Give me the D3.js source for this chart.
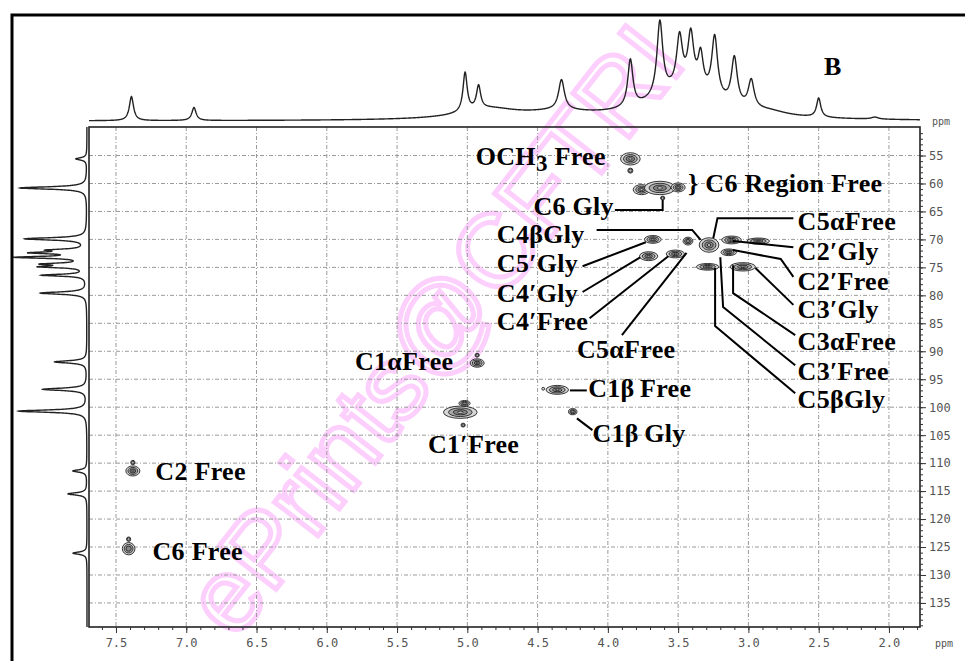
<!DOCTYPE html>
<html>
<head>
<meta charset="utf-8">
<script src="https://cdn.jsdelivr.net/npm/d3@7"></script>
<style>
body{margin:0;background:#fff}
.lbl{font-family:"Liberation Serif","Times New Roman",serif;font-weight:bold;font-size:26px;letter-spacing:0.3px;fill:#000}
.tk text{font-family:"DejaVu Sans Mono",monospace;font-size:12px;fill:#555}
.tk path{display:none}
.tk line{stroke:#333}
</style>
</head>
<body>
<div id="chart"></div>
<script>
// 1H projection (top): [ppm, height, half width]
var protonPeaks = [
  [7.39, 24, 0.018], [6.945, 13, 0.018],
  [4.85, 10, 0.25], [4.35, 6, 0.3],
  [5.016, 39, 0.018], [4.92, 23, 0.018], [4.33, 30, 0.025],
  [3.45, 30, 0.3], [2.85, 4, 0.15],
  [3.84, 47, 0.022], [3.63, 74, 0.025], [3.49, 50, 0.025], [3.41, 52, 0.025],
  [3.34, 34, 0.022], [3.24, 60, 0.025], [3.10, 47, 0.025], [2.98, 28, 0.025],
  [2.50, 19, 0.018], [2.10, 2, 0.03]
];
// 13C projection (left): [ppm, height, half width]
var carbonPeaks = [
  [55.6, 11, 0.25], [60.8, 67, 0.25], [69.9, 61, 0.25], [71.9, 32, 0.2],
  [72.4, 50, 0.2], [73.2, 68, 0.2], [74.4, 39, 0.2], [74.9, 42, 0.2],
  [76.4, 44, 0.2], [79.6, 46, 0.25], [91.9, 32, 0.25], [96.8, 44, 0.25],
  [100.7, 68, 0.25], [111.4, 14, 0.25], [115.5, 19, 0.25], [126.1, 14, 0.25]
];
// HSQC cross peaks: [1H ppm, 13C ppm, 1H half width, 13C half width]
var crossPeaks = [
  [7.38, 111.4, 0.05, 0.9], [7.38, 109.9, 0.015, 0.4],
  [7.41, 125.3, 0.045, 1.1], [7.41, 123.6, 0.015, 0.4],
  [3.84, 55.6, 0.07, 1.1], [3.84, 57.7, 0.018, 0.45],
  [3.76, 61.1, 0.06, 0.9], [3.63, 60.8, 0.11, 1.2], [3.50, 60.7, 0.05, 0.8],
  [3.61, 62.6, 0.015, 0.35],
  [3.68, 70.0, 0.06, 0.7], [3.71, 73.0, 0.065, 0.8], [3.52, 72.6, 0.065, 0.7],
  [3.43, 70.3, 0.035, 0.7], [3.28, 71.0, 0.07, 1.3],
  [3.12, 70.1, 0.07, 0.7], [2.93, 70.3, 0.08, 0.55],
  [3.14, 72.3, 0.055, 0.6], [3.04, 74.9, 0.09, 0.75], [3.29, 74.9, 0.08, 0.6],
  [4.93, 92.1, 0.05, 0.75], [4.93, 90.7, 0.015, 0.35],
  [5.05, 100.9, 0.12, 1.1], [5.02, 99.3, 0.04, 0.5], [5.03, 103.2, 0.015, 0.35],
  [4.36, 96.9, 0.08, 0.8], [4.46, 96.7, 0.01, 0.25],
  [4.25, 100.8, 0.03, 0.55]
];
var xTicks = [7.5, 7.0, 6.5, 6.0, 5.5, 5.0, 4.5, 4.0, 3.5, 3.0, 2.5, 2.0];
var yTicks = [55, 60, 65, 70, 75, 80, 85, 90, 95, 100, 105, 110, 115, 120, 125, 130, 135];
// assignments: text, [1H, 13C] of text start, leader line points in ppm
var labels = [
  {t: "C6 Gly", at: [4.53, 65.6], line: [[3.95, 64.75], [3.61, 64.75], [3.61, 62.96]]},
  {t: "C4\u03b2Gly", at: [4.79, 70.65], line: [[4.08, 68.3], [3.40, 68.3], [3.34, 70.1]]},
  {t: "C5\u2032Gly", at: [4.79, 75.8], line: [[4.18, 74.8], [3.73, 70.5]]},
  {t: "C4\u2032Gly", at: [4.79, 81.2], line: [[4.18, 79.4], [3.77, 73.2]]},
  {t: "C4\u2032Free", at: [4.79, 86.2], line: [[4.13, 84.1], [3.57, 73.0]]},
  {t: "C5\u03b1Free", at: [4.22, 91.2], line: [[3.90, 87.1], [3.44, 72.4]]},
  {t: "C1\u03b1Free", at: [5.80, 93.4], line: []},
  {t: "C1\u03b2\u2009Free", at: [4.14, 98.2], line: [[4.27, 97.0], [4.15, 97.0]]},
  {t: "C1\u2032Free", at: [5.28, 108.2], line: []},
  {t: "C1\u03b2\u2009Gly", at: [4.11, 106.25], line: [[4.22, 102.0], [4.11, 104.1]]},
  {t: "C2 Free", at: [7.22, 113.05], line: []},
  {t: "C6 Free", at: [7.24, 127.4], line: []},
  {t: "} C6 Region Free", at: [3.43, 61.6], line: []},
  {t: "C5\u03b1Free", at: [2.65, 68.3], line: [[2.68, 66.2], [3.22, 66.2], [3.25, 69.8]]},
  {t: "C2\u2032Gly", at: [2.65, 73.7], line: [[2.68, 71.4], [3.11, 70.3]]},
  {t: "C2\u2032Free", at: [2.65, 79.1], line: [[2.68, 76.7], [2.77, 73.5], [3.11, 71.9]]},
  {t: "C3\u2032Gly", at: [2.65, 84.1], line: [[2.68, 81.7], [2.95, 75.1]]},
  {t: "C3\u03b1Free", at: [2.65, 89.8], line: [[2.667, 87.1], [3.109, 79.6], [3.109, 74.6]]},
  {t: "C3\u2032Free", at: [2.65, 95.2], line: [[2.667, 92.5], [3.18, 82.1], [3.20, 73.2]]},
  {t: "C5\u03b2Gly", at: [2.65, 100.2], line: [[2.667, 97.5], [3.237, 85.5], [3.237, 75.1]]}
];

var W = 965, H = 661;
var svg = d3.select("#chart").append("svg").attr("width", W).attr("height", H);

var x = d3.scaleLinear().domain([7.692, 1.779]).range([89, 920]);
var y = d3.scaleLinear().domain([49.9, 139.3]).range([127, 627]);
var topY = d3.scaleLinear().domain([0, 100]).range([121, 21]);
var leftX = d3.scaleLinear().domain([0, 100]).range([87, -13]);

function lorentz(list, p) {
  var s = 0;
  for (var i = 0; i < list.length; i++) {
    var d = p - list[i][0], w = list[i][2];
    s += list[i][1] * w * w / (d * d + w * w);
  }
  return s;
}

// watermark
svg.append("text")
  .attr("transform", "translate(440,335) rotate(-52)")
  .attr("text-anchor", "middle")
  .attr("dominant-baseline", "middle")
  .style("font-family", "Liberation Sans, sans-serif")
  .style("font-size", "104px")
  .style("fill", "none")
  .style("stroke", "#fccffc")
  .style("stroke-width", 5)
  .text("ePrints@CFTRI");

// outer frame
svg.append("rect").attr("x", 12).attr("y", 15).attr("width", W).attr("height", H)
  .attr("fill", "none").attr("stroke", "#000").attr("stroke-width", 3);

// grid
var grid = svg.append("g").attr("stroke", "#9a9a9a").attr("stroke-width", 1)
  .attr("stroke-dasharray", "4,2,1,2");
grid.selectAll(".v").data(xTicks).enter().append("line")
  .attr("x1", function(d) { return x(d); }).attr("x2", function(d) { return x(d); })
  .attr("y1", y.range()[0]).attr("y2", y.range()[1]);
grid.selectAll(".h").data(yTicks).enter().append("line")
  .attr("y1", function(d) { return y(d); }).attr("y2", function(d) { return y(d); })
  .attr("x1", x.range()[0]).attr("x2", x.range()[1]);

// plot box
svg.append("rect").attr("x", x.range()[0]).attr("y", y.range()[0])
  .attr("width", x.range()[1] - x.range()[0]).attr("height", y.range()[1] - y.range()[0])
  .attr("fill", "none").attr("stroke", "#222").attr("stroke-width", 1.6);

// axes
svg.append("g").attr("class", "tk").attr("transform", "translate(0," + y.range()[1] + ")")
  .call(d3.axisBottom(x).tickValues(d3.range(7.6, 1.75, -0.1)).tickSize(3).tickFormat(""));
svg.append("g").attr("class", "tk").attr("transform", "translate(0," + y.range()[1] + ")")
  .call(d3.axisBottom(x).tickValues(xTicks).tickSize(6).tickPadding(5).tickFormat(d3.format(".1f")));
svg.append("g").attr("class", "tk").attr("transform", "translate(" + x.range()[1] + ",0)")
  .call(d3.axisRight(y).tickValues(d3.range(51, 140, 1)).tickSize(3).tickFormat(""));
svg.append("g").attr("class", "tk").attr("transform", "translate(" + x.range()[1] + ",0)")
  .call(d3.axisRight(y).tickValues(yTicks).tickSize(6).tickPadding(3));

svg.append("text").attr("x", 935).attr("y", 647)
  .style("font-family", "DejaVu Sans Mono, monospace").style("font-size", "10px").style("fill", "#555").text("ppm");
svg.append("text").attr("x", 932).attr("y", 125)
  .style("font-family", "DejaVu Sans Mono, monospace").style("font-size", "10px").style("fill", "#555").text("ppm");

// 1H projection
var hGrid = d3.range(x.domain()[0], x.domain()[1], -0.002);
svg.append("path")
  .datum(hGrid)
  .attr("d", d3.line()
    .x(function(d) { return x(d); })
    .y(function(d) { return topY(lorentz(protonPeaks, d)); }))
  .attr("fill", "none").attr("stroke", "#222").attr("stroke-width", 1.4);

// 13C projection
var cGrid = d3.range(y.domain()[0], y.domain()[1], 0.02);
svg.append("path")
  .datum(cGrid)
  .attr("d", d3.line()
    .y(function(d) { return y(d); })
    .x(function(d) { return leftX(lorentz(carbonPeaks, d)); }))
  .attr("fill", "none").attr("stroke", "#222").attr("stroke-width", 1.4);

// cross peaks as contour rings
var levels = [1, 0.7, 0.42, 0.18];
var fills = ["#d6d6d6", "#ababab", "#868686", "#dedede"];
var cp = svg.append("g");
crossPeaks.forEach(function(p) {
  var rx = Math.abs(x(p[0] + p[2]) - x(p[0]));
  var ry = Math.abs(y(p[1] + p[3]) - y(p[1]));
  levels.forEach(function(l, i) {
    if (rx * l < 1.2 && i > 0) return;
    cp.append("ellipse")
      .attr("cx", x(p[0])).attr("cy", y(p[1]))
      .attr("rx", rx * l).attr("ry", ry * l)
      .attr("fill", fills[i]).attr("stroke", "#222").attr("stroke-width", 0.9);
  });
});

// leader lines
var ln = d3.line().x(function(d) { return x(d[0]); }).y(function(d) { return y(d[1]); });
svg.append("g").selectAll("path").data(labels.filter(function(d) { return d.line.length; }))
  .enter().append("path")
  .attr("d", function(d) { return ln(d.line); })
  .attr("fill", "none").attr("stroke", "#000").attr("stroke-width", 2);

// labels
svg.append("g").selectAll("text").data(labels).enter().append("text")
  .attr("class", "lbl")
  .attr("x", function(d) { return x(d.at[0]); })
  .attr("y", function(d) { return y(d.at[1]); })
  .text(function(d) { return d.t; });

var och = svg.append("text").attr("class", "lbl").attr("x", x(4.94)).attr("y", y(56.7));
och.append("tspan").text("OCH");
och.append("tspan").attr("dy", 6).style("font-size", "23px").text("3");
och.append("tspan").attr("dy", -6).text(" Free");

svg.append("text").attr("class", "lbl").attr("x", 824).attr("y", 75)
  .style("font-size", "26px").text("B");
</script>
</body>
</html>
